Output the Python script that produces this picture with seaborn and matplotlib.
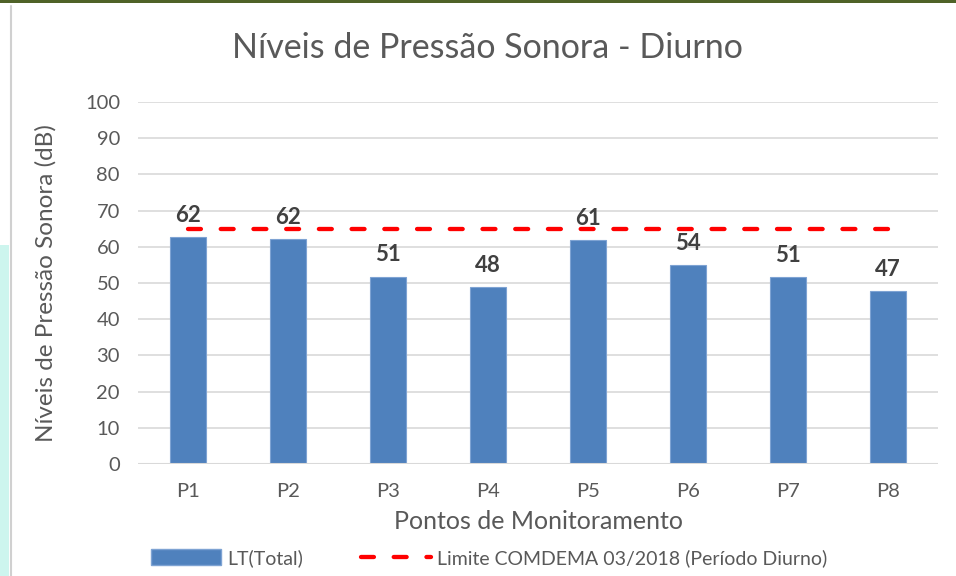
import matplotlib
matplotlib.use('Agg')
import matplotlib.pyplot as plt
import seaborn as sns
from matplotlib.patches import Patch, Rectangle
from matplotlib.lines import Line2D

# Chart data
points = ['P1', 'P2', 'P3', 'P4', 'P5', 'P6', 'P7', 'P8']
lt_total = [62.7, 62.2, 51.8, 49.0, 61.8, 55.0, 51.6, 47.8]
bar_labels = ['62', '62', '51', '48', '61', '54', '51', '47']
limite_diurno = [65, 65, 65, 65, 65, 65, 65, 65]
y_ticks = [0, 10, 20, 30, 40, 50, 60, 70, 80, 90, 100]

BAR_COLOR = '#4f81bd'
LINE_COLOR = '#ff0000'
TEXT_COLOR = '#595959'

sns.set_theme(style='white')
plt.rcParams['font.family'] = ['Lato', 'DejaVu Sans']

fig = plt.figure(figsize=(9.56, 5.76), dpi=100)
ax = fig.add_axes([0.1444, 0.1944, 0.8368, 0.6285])

sns.barplot(x=points, y=lt_total, color=BAR_COLOR, width=0.36,
            edgecolor='#7ea3d3', linewidth=0.8, saturation=1, ax=ax, zorder=2)
ax.plot(range(len(points)), limite_diurno, color=LINE_COLOR, lw=3.1,
        dashes=(3.0, 4.6), dash_capstyle='round', zorder=4)

# data labels above each bar
for i, (v, lab) in enumerate(zip(lt_total, bar_labels)):
    ax.annotate(lab, (i, v), xytext=(0, 8), textcoords='offset points',
                ha='center', va='bottom', fontsize=16, fontweight='bold',
                color='#404040', zorder=5)

ax.set_ylim(0, 100)
ax.set_xlim(-0.5, len(points) - 0.5)
ax.set_yticks(y_ticks)
ax.yaxis.grid(True, color='#d9d9d9', lw=1.2, zorder=0)
ax.set_axisbelow(True)
for s in ax.spines.values():
    s.set_visible(False)
ax.axhline(0, color='#d9d9d9', lw=1.5, zorder=3)
ax.tick_params(axis='both', length=0, labelsize=14.5, labelcolor=TEXT_COLOR)
ax.tick_params(axis='y', pad=13)
ax.tick_params(axis='x', pad=14)

fig.text(0.51, 0.917, 'Níveis de Pressão Sonora - Diurno', fontsize=24.5,
         color=TEXT_COLOR, ha='center', va='center')
ax.set_ylabel('Níveis de Pressão Sonora (dB)', fontsize=17.5, color=TEXT_COLOR)
ax.yaxis.set_label_coords(-0.102, 0.5)
ax.set_xlabel('Pontos de Monitoramento', fontsize=18, color=TEXT_COLOR)
ax.xaxis.set_label_coords(0.5, -0.128)

handles = [Patch(facecolor=BAR_COLOR, edgecolor='#7ea3d3'),
           Line2D([0], [0], color=LINE_COLOR, lw=3.1, dashes=(3.0, 4.6), dash_capstyle='round')]
fig.legend(handles, ['LT(Total)', 'Limite COMDEMA 03/2018 (Período Diurno)'],
           loc='center', bbox_to_anchor=(0.512, 0.031), ncol=2, frameon=False,
           fontsize=14, labelcolor=TEXT_COLOR, handlelength=3.6, handleheight=0.9,
           columnspacing=3.0, handletextpad=0.3)

# screenshot frame edges
fig.add_artist(Rectangle((0, 0.994), 1, 0.006, transform=fig.transFigure,
                         color='#4f6228', lw=0))
fig.add_artist(Rectangle((0, 0), 0.009, 0.575, transform=fig.transFigure,
                         color='#cdf5ee', lw=0))
fig.add_artist(Line2D([0.011, 0.011], [0, 0.99], transform=fig.transFigure,
                      color='#d0d0d0', lw=1.5))

plt.savefig('out.png', dpi=100)
plt.close()
